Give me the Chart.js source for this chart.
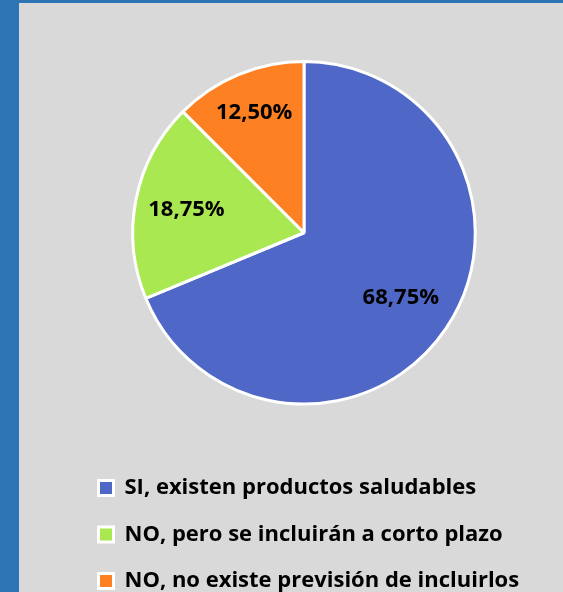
<!DOCTYPE html>
<html>
<head>
<meta charset="utf-8">
<script src="https://cdn.jsdelivr.net/npm/chart.js@4.4.1/dist/chart.umd.min.js"></script>
<style>
    html, body { margin: 0; padding: 0; overflow: hidden; background: #2e75b6; }
    #wrap { position: absolute; left: 19px; top: 3px; width: 544px; height: 599px; background: #d9d9d9; }
</style>
</head>
<body>
<div id="wrap"><canvas id="pieChart"></canvas></div>
<script>
// Chart data
const categories = [
    'SI, existen productos saludables',
    'NO, pero se incluirán a corto plazo',
    'NO, no existe previsión de incluirlos'
];
const percentages = [68.75, 18.75, 12.5];
const sliceColors = ['#4f67c7', '#a9e851', '#fd8122'];

const FONT = "'Open Sans', Lato, sans-serif";

// Percent labels inside the slices (radius factor per slice, like Excel best fit)
const labelRadius = [0.68, 0.70, 0.76];
const sliceLabels = {
    id: 'sliceLabels',
    afterDatasetsDraw(chart) {
        const ctx = chart.ctx;
        const meta = chart.getDatasetMeta(0);
        ctx.save();
        ctx.font = 'bold 22px ' + FONT;
        ctx.fillStyle = '#000';
        ctx.textAlign = 'center';
        ctx.textBaseline = 'middle';
        meta.data.forEach((arc, i) => {
            const mid = (arc.startAngle + arc.endAngle) / 2;
            const r = arc.outerRadius * labelRadius[i];
            const x = arc.x + Math.cos(mid) * r;
            const y = arc.y + Math.sin(mid) * r;
            ctx.fillText(percentages[i].toFixed(2).replace('.', ',') + '%', x, y);
        });
        ctx.restore();
    }
};

const ctx = document.getElementById('pieChart').getContext('2d');
new Chart(ctx, {
    type: 'pie',
    data: {
        labels: categories,
        datasets: [{
            data: percentages,
            backgroundColor: sliceColors,
            borderColor: '#ffffff',
            borderWidth: 3
        }]
    },
    options: {
        responsive: true,
        maintainAspectRatio: false,
        animation: false,
        layout: {
            padding: { top: 57, left: 55, right: 29, bottom: 0 }
        },
        plugins: {
            tooltip: { enabled: false },
            legend: {
                position: 'bottom',
                align: 'start',
                // empty title only used as a spacer above the legend rows
                title: { display: true, text: ' ', padding: 17.5, font: { size: 10 } },
                labels: {
                    boxWidth: 15,
                    boxHeight: 15,
                    padding: 24.5,
                    color: '#000',
                    font: { family: FONT, size: 22, weight: 'bold' },
                    generateLabels(chart) {
                        return categories.map((c, i) => ({
                            text: c,
                            fillStyle: sliceColors[i],
                            strokeStyle: '#ffffff',
                            fontColor: '#000000',
                            lineWidth: 3,
                            index: i
                        }));
                    }
                }
            }
        }
    },
    plugins: [sliceLabels]
});
</script>
</body>
</html>
